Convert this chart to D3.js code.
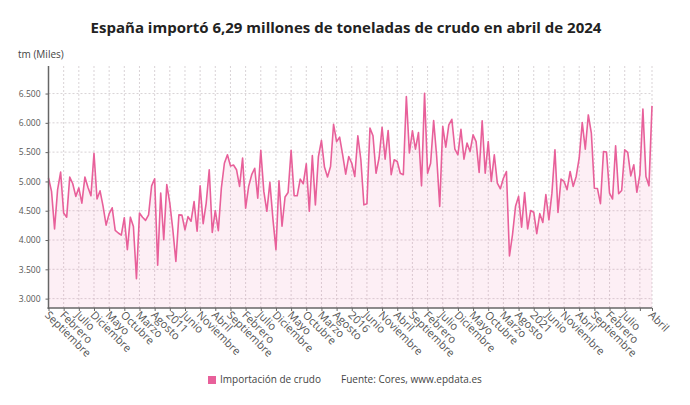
<!DOCTYPE html>
<html><head><meta charset="utf-8">
<script src="https://cdn.jsdelivr.net/npm/d3@7"></script>
<style>
html,body{margin:0;padding:0;background:#fff;}
svg{display:block;font-family:"Open Sans",sans-serif;}
</style></head>
<body>
<svg id="c" width="690" height="405"></svg>
<script>
// ---- DATA ----
const title = "España importó 6,29 millones de toneladas de crudo en abril de 2024";
const yAxisTitle = "tm (Miles)";
const seriesName = "Importación de crudo";
const sourceText = "Fuente: Cores, www.epdata.es";

// monthly categories Sep 2007 .. Apr 2024
const categories = [];
for (let yy = 2007, mm = 9; yy < 2024 || (yy === 2024 && mm <= 4); ) {
  categories.push(yy + "-" + String(mm).padStart(2, "0"));
  mm++; if (mm > 12) { mm = 1; yy++; }
}

const values = [
 5060,4830,4190,4860,5160,4460,4390,5075,4960,4745,
 4890,4630,5075,4900,4755,5480,4700,4840,4575,4255,
 4450,4550,4165,4120,4085,4380,3835,4390,4230,3340,
 4460,4390,4335,4430,4925,5045,3570,4800,4005,4945,
 4630,4176,3636,4430,4425,4175,4400,4320,4655,4150,
 4925,4280,4630,5200,4130,4505,4160,4885,5310,5455,
 5265,5280,5200,4915,5400,4545,4915,5115,5225,4715,
 5530,4830,4490,4985,4360,3835,5010,4235,4735,4810,
 5530,4755,4755,5040,4960,5300,4490,5440,4600,5425,
 5700,5245,5075,5255,5975,5680,5755,5455,5125,5425,
 5310,5085,5780,5370,4600,4620,5910,5780,5140,5400,
 5925,5380,5870,5115,5370,5340,5140,5115,6450,5485,
 5865,5550,5835,4925,6505,5140,5310,6040,5425,4575,
 5940,5585,5965,6060,5550,5455,5890,5380,5655,5510,
 5795,5680,5155,6035,5140,5680,5000,5455,4970,4875,
 5055,5170,3730,4090,4575,4745,4220,4810,4190,4505,
 4475,4110,4450,4300,4775,4345,4800,5540,4470,5040,
 5000,4860,5170,4915,5085,5400,6005,5550,6135,5825,
 4885,4880,4620,5510,5500,4800,4700,5610,4790,4845,
 5540,5495,5095,5285,4815,5115,6235,5085,4925,6290
];

// labels shown every 5 months (Sep 2007 .. Jul 2023) plus the last month
const tickLabels = [
 "Septiembre","Febrero","Julio","Diciembre","Mayo","Octubre","Marzo","Agosto","2011","Junio",
 "Noviembre","Abril","Septiembre","Febrero","Julio","Diciembre","Mayo","Octubre","Marzo","Agosto",
 "2016","Junio","Noviembre","Abril","Septiembre","Febrero","Julio","Diciembre","Mayo","Octubre",
 "Marzo","Agosto","2021","Junio","Noviembre","Abril","Septiembre","Febrero","Julio","Abril"
];
const yTicks = [3000,3500,4000,4500,5000,5500,6000,6500];

// ---- LAYOUT ----
const color = "#e8609a";
const pL = 48.5, pR = 652, pT = 66, pB = 308;
const svg = d3.select("#c");

const x = d3.scalePoint().domain(categories).range([pL, pR]);
const y = d3.scaleLinear().domain([2840, 6970]).range([pB, pT]);

const lastIdx = categories.length - 1;
const tickCats = categories.filter((d, i) => i % 5 === 0 || i === lastIdx);
const labelCats = categories.filter((d, i) => (i % 5 === 0 && i <= lastIdx - 6) || i === lastIdx);
const labelMap = new Map(labelCats.map((c, i) => [c, tickLabels[i]]));

// title
svg.append("text").attr("x", 346).attr("y", 33).attr("text-anchor", "middle")
  .attr("font-size", 15).attr("font-weight", 700).attr("fill", "#222").text(title);
svg.append("text").attr("x", 18).attr("y", 58).attr("font-size", 10).attr("fill", "#444").text(yAxisTitle);

// gridlines
const grid = svg.append("g").attr("stroke", "#cfc8cc").attr("stroke-width", 0.8).attr("stroke-dasharray", "2,2");
grid.selectAll(".h").data(yTicks).join("line")
  .attr("x1", pL).attr("x2", pR).attr("y1", d => y(d)).attr("y2", d => y(d));
grid.selectAll(".v").data(tickCats).join("line")
  .attr("x1", d => x(d)).attr("x2", d => x(d)).attr("y1", pT).attr("y2", pB);

// area + line
const area = d3.area().x((d, i) => x(categories[i])).y0(pB).y1(d => y(d));
svg.append("path").datum(values).attr("d", area).attr("fill", color).attr("fill-opacity", 0.1);
const line = d3.line().x((d, i) => x(categories[i])).y(d => y(d));
svg.append("path").datum(values).attr("d", line).attr("fill", "none")
  .attr("stroke", color).attr("stroke-width", 1.6).attr("stroke-linejoin", "round");

// y axis
const yAxis = d3.axisLeft(y).tickValues(yTicks).tickSize(3).tickPadding(5)
  .tickFormat(d => d3.format(",")(d).replace(/,/g, "."));
const gy = svg.append("g").attr("transform", `translate(${pL},0)`).call(yAxis);
gy.select(".domain").remove();
gy.selectAll("line").attr("stroke", "#666");
gy.selectAll("text").attr("font-size", 8.5).attr("fill", "#555").attr("font-family", "Open Sans");
svg.append("line").attr("x1", pL).attr("x2", pL).attr("y1", pT).attr("y2", pB + 1)
  .attr("stroke", "#666").attr("stroke-width", 1.5);

// x axis
const xAxis = d3.axisBottom(x).tickValues(tickCats).tickSize(3).tickFormat(d => labelMap.get(d) || "");
const gx = svg.append("g").attr("transform", `translate(0,${pB})`).call(xAxis);
gx.select(".domain").remove();
gx.selectAll("line").attr("stroke", "#666");
gx.selectAll("text").attr("font-size", 11).attr("fill", "#555").attr("font-family", "Open Sans")
  .attr("text-anchor", "start").attr("y", 0).attr("dy", "0.35em")
  .attr("transform", "translate(-2,5) rotate(45)");
svg.append("line").attr("x1", pL - 1).attr("x2", pR).attr("y1", pB).attr("y2", pB)
  .attr("stroke", "#666").attr("stroke-width", 1.5);

// legend
svg.append("rect").attr("x", 208).attr("y", 376).attr("width", 8).attr("height", 8).attr("fill", color);
svg.append("text").attr("x", 220).attr("y", 383).attr("font-size", 10).attr("fill", "#444").text(seriesName);
svg.append("text").attr("x", 341).attr("y", 383).attr("font-size", 10).attr("fill", "#444").text(sourceText);
</script>
</body></html>
